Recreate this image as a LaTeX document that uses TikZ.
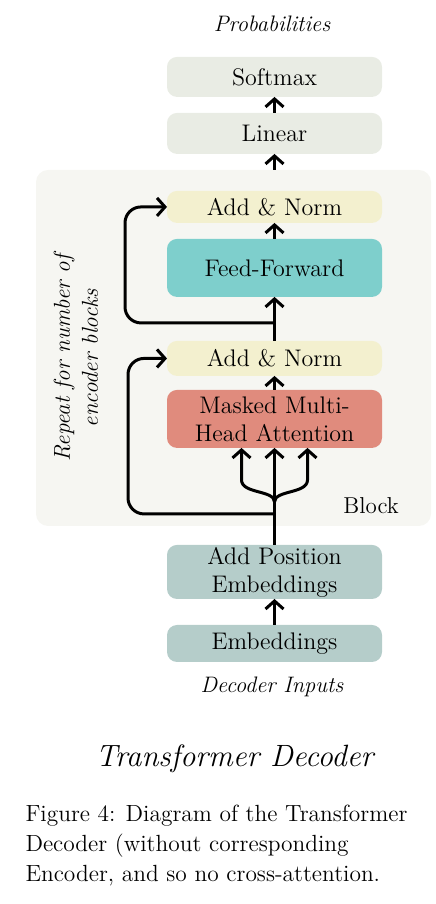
\documentclass[tikz,border=0pt]{standalone}
\usepackage{tikz}
\usetikzlibrary{positioning,arrows.meta}
\definecolor{topgray}{HTML}{E9ECE4}
\definecolor{blockgray}{HTML}{F6F6F2}
\definecolor{normcream}{HTML}{F3F0CF}
\definecolor{ffteal}{HTML}{7ECFCC}
\definecolor{attnred}{HTML}{E08B7D}
\definecolor{embgray}{HTML}{B5CDCA}
\tikzset{
>={Straight Barb[length=4pt,width=9pt]},
layer/.style={rectangle,rounded corners=5pt,minimum width=107.5pt,text width=104pt,
  align=center,inner sep=1pt,outer sep=0pt,font=\fontsize{12}{14}\selectfont},
blockbg/.style={rectangle,rounded corners=6pt,fill=blockgray,minimum width=197.5pt,minimum height=178pt,outer sep=0pt},
io/.style={font=\fontsize{11.2}{13}\selectfont\itshape}
}

\begin{document}
\begin{tikzpicture}[line width=1.5pt]
\useasboundingbox (0,0) rectangle (217.5pt,452pt);

\node[blockbg] (blk) at (116.75pt,278pt) {};

\node[layer,fill=embgray,minimum height=18.5pt] (emb) at (137.25pt,130.25pt) {Embeddings};
\node[layer,fill=embgray,minimum height=27pt,above=13pt of emb] (pos) {Add Position\\Embeddings};
\node[layer,fill=attnred,minimum height=29pt,above=48.5pt of pos] (mha) {Masked Multi-\\Head Attention};
\node[layer,fill=normcream,minimum height=17.5pt,above=7pt of mha] (an1) {Add \& Norm};
\node[layer,fill=ffteal,minimum height=29pt,above=22pt of an1] (ff) {Feed-Forward};
\node[layer,fill=normcream,minimum height=16pt,above=8pt of ff] (an2) {Add \& Norm};
\node[layer,fill=topgray,minimum height=20.5pt,above=18.5pt of an2] (lin) {Linear};
\node[layer,fill=topgray,minimum height=20pt,above=8pt of lin] (soft) {Softmax};

\node[io,anchor=base] (prob) at (136pt,436pt) {Probabilities};
\node[io,anchor=base] (dec) at (136pt,105.5pt) {Decoder Inputs};
\node[anchor=base east,font=\fontsize{11.5}{14}\selectfont] (blklabel)
  at ([xshift=-12pt,yshift=6pt]blk.south east) {Block};
\node[io,rotate=90,align=center,font=\fontsize{11.5}{14}\selectfont\itshape] (note)
  at (38pt,273pt) {Repeat for number of\\encoder blocks};

% split points
\coordinate[below=33pt of mha.south] (res1);
\coordinate[below=27pt of mha.south] (fork);
\coordinate[below=13pt of ff.south] (res2);
\coordinate[left=16.5pt of mha.south] (qin);
\coordinate[right=16.5pt of mha.south] (vin);

\draw[->] (emb) -- (pos);
\draw[->] (pos.north) -- (mha.south);
\draw[->] (fork) .. controls +(0,6pt) and +(0,-7pt) .. ([yshift=-16pt]qin) -- (qin);
\draw[->] (fork) .. controls +(0,6pt) and +(0,-7pt) .. ([yshift=-16pt]vin) -- (vin);
\draw[->,rounded corners=8pt] (res1) -| ([xshift=-19.5pt]an1.west) -- (an1.west);
\draw[->] (mha) -- (an1);
\draw[->] (an1) -- (ff);
\draw[->,rounded corners=8pt] (res2) -| ([xshift=-21pt]an2.west) -- (an2.west);
\draw[->] (ff) -- (an2);
\draw[->] (lin.south |- blk.north) -- (lin.south);
\draw[->] (lin) -- (soft);

\node[anchor=base,font=\fontsize{15.4}{18}\selectfont\itshape] (title) at (117.25pt,68.5pt) {Transformer Decoder};
\node[anchor=base west,inner sep=0pt,font=\fontsize{11.7}{15}\selectfont] (cap1) at (12pt,41pt) {Figure 4: Diagram of the Transformer};
\node[anchor=base west,inner sep=0pt,font=\fontsize{11.7}{15}\selectfont] (cap2) at (12pt,26pt) {Decoder (without corresponding};
\node[anchor=base west,inner sep=0pt,font=\fontsize{11.7}{15}\selectfont] (cap3) at (12pt,11pt) {Encoder, and so no cross-attention.};
\end{tikzpicture}
\end{document}
